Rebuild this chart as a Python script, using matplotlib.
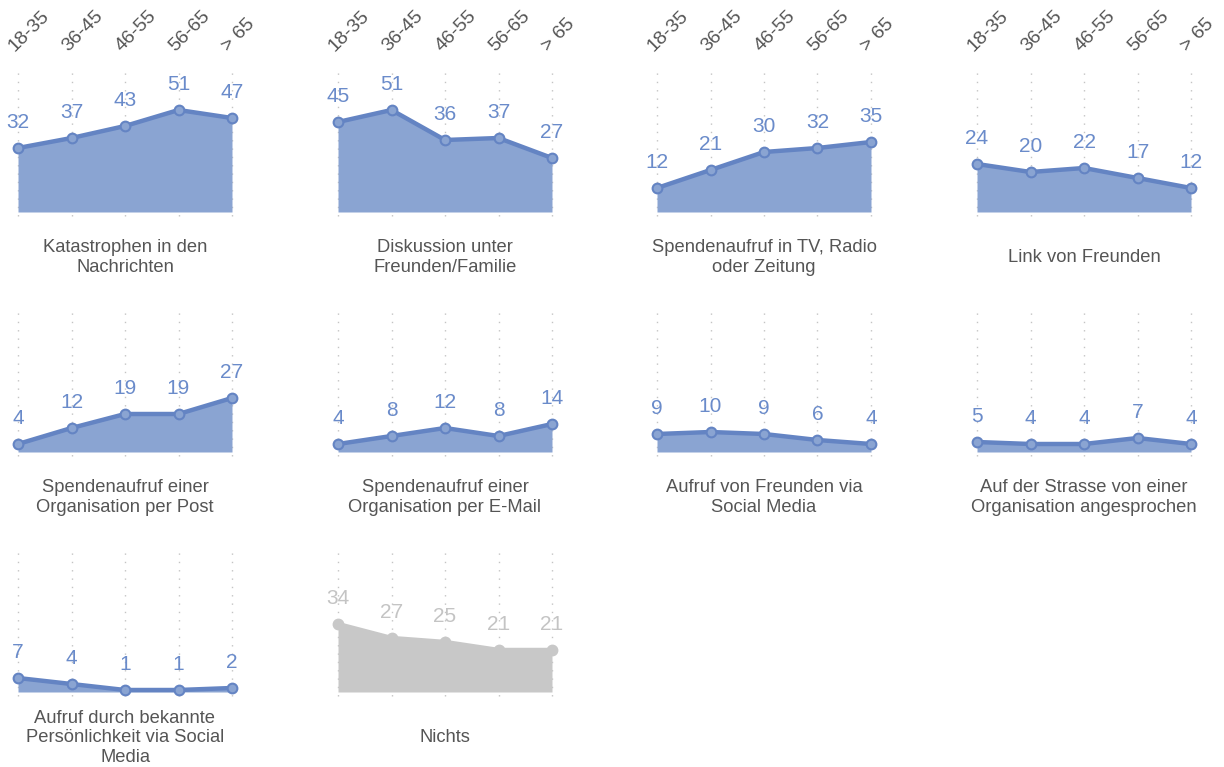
import matplotlib
matplotlib.use("Agg")
import matplotlib.pyplot as plt
import matplotlib.transforms as mtransforms

plt.rcParams['font.family'] = ['Liberation Sans', 'DejaVu Sans']

# age groups (x axis of every panel)
ages = ["18-35", "36-45", "46-55", "56-65", "> 65"]

titles = [
    "Katastrophen in den\nNachrichten",
    "Diskussion unter\nFreunden/Familie",
    "Spendenaufruf in TV, Radio\noder Zeitung",
    "Link von Freunden",
    "Spendenaufruf einer\nOrganisation per Post",
    "Spendenaufruf einer\nOrganisation per E-Mail",
    "Aufruf von Freunden via\nSocial Media",
    "Auf der Strasse von einer\nOrganisation angesprochen",
    "Aufruf durch bekannte\nPersönlichkeit via Social\nMedia",
    "Nichts",
]

katastrophen = [32, 37, 43, 51, 47]
diskussion = [45, 51, 36, 37, 27]
tv_radio = [12, 21, 30, 32, 35]
link = [24, 20, 22, 17, 12]
post = [4, 12, 19, 19, 27]
email = [4, 8, 12, 8, 14]
social = [9, 10, 9, 6, 4]
strasse = [5, 4, 4, 7, 4]
promi = [7, 4, 1, 1, 2]
nichts = [34, 27, 25, 21, 21]

series = [katastrophen, diskussion, tv_radio, link, post, email,
          social, strasse, promi, nichts]

W, H = 1224, 767
fig = plt.figure(figsize=(W / 100, H / 100), dpi=100)

blue_fill = "#8aa4d2"
blue_line = "#6484c3"
blue_text = "#6a8bca"
grey_fill = "#c8c8c8"
grey_text = "#c4c4c4"
dark = "#555555"

col_x = [18, 338, 657, 977]
row_bottom = [216, 456, 696]   # pixel from top
pw, ph = 214, 144

x = list(range(len(ages)))

for i, vals in enumerate(series):
    r, c = divmod(i, 4)
    left = col_x[c] / W
    bottom = 1 - row_bottom[r] / H
    ax = fig.add_axes([left, bottom, pw / W, ph / H])
    ax.set_xlim(0, 4)
    ax.set_ylim(-2, 70)
    ax.axis("off")

    is_none = titles[i] == "Nichts"
    fc = grey_fill if is_none else blue_fill
    lc = grey_fill if is_none else blue_line
    tc = grey_text if is_none else blue_text

    for xi in x:
        ax.plot([xi, xi], [-2, 70], linestyle=(0, (1, 5)), color="#c4c4c4",
                lw=1, zorder=1, clip_on=False)

    ax.fill_between(x, 0, vals, color=fc, lw=0, zorder=2)
    ax.plot(x, vals, color=lc, lw=3.2, marker="o", markersize=7,
            markerfacecolor=fc, markeredgecolor=lc, markeredgewidth=1.5,
            zorder=3, clip_on=False)

    for xi, v in zip(x, vals):
        ax.annotate(str(v), xy=(xi, v), xytext=(0, 18.5), textcoords="offset points",
                    ha="center", va="center", fontsize=15, color=tc)

    ax.annotate(titles[i], xy=(0.5, 0), xycoords="axes fraction",
                xytext=(0, -30), textcoords="offset points",
                ha="center", va="center", fontsize=13.2, color=dark,
                linespacing=1.2)

    if r == 0:
        trans = mtransforms.blended_transform_factory(ax.transData, ax.transAxes)
        for xi, lab in zip(x, ages):
            ax.annotate(lab, xy=(xi, 1), xycoords=trans, xytext=(-5, 17),
                        textcoords="offset points", rotation=45,
                        rotation_mode="anchor", ha="left", va="center",
                        fontsize=14, color=dark)

fig.savefig("out.png", dpi=100)
